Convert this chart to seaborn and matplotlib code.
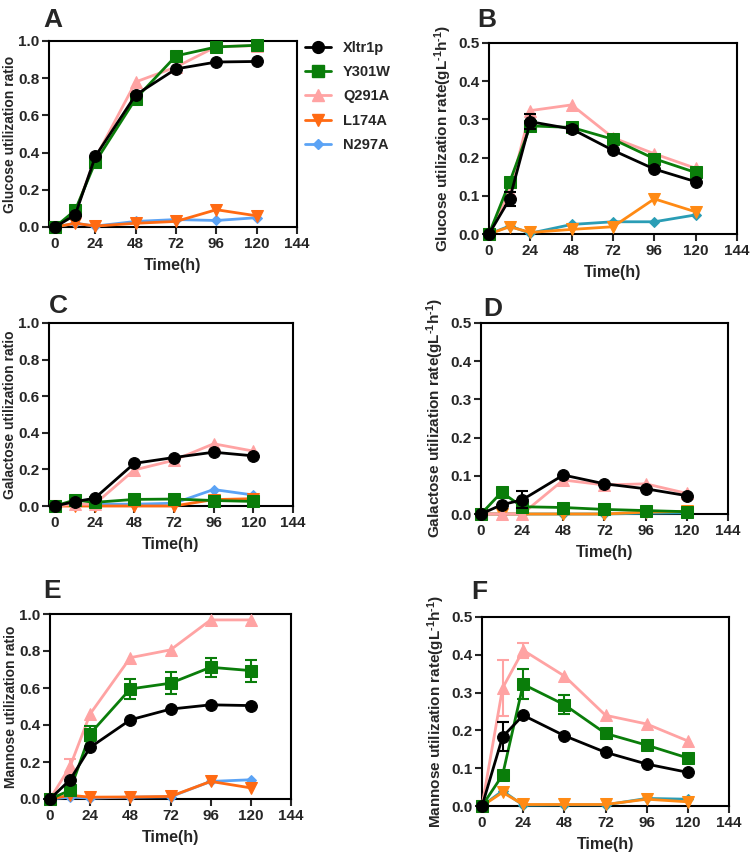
import numpy as np
import pandas as pd
import matplotlib
matplotlib.use("Agg")
import matplotlib.pyplot as plt
import seaborn as sns
from matplotlib.lines import Line2D

times = [0, 12, 24, 48, 72, 96, 120]
strains = ["Xltr1p", "Y301W", "Q291A", "L174A", "N297A"]

glucose_ratio = {
    "Xltr1p": [0, 0.065, 0.38, 0.71, 0.85, 0.887, 0.89],
    "Y301W": [0, 0.09, 0.35, 0.69, 0.92, 0.968, 0.977],
    "Q291A": [0, 0.08, 0.37, 0.78, 0.86, 0.97, 0.975],
    "L174A": [0, 0.02, 0.005, 0.02, 0.03, 0.093, 0.06],
    "N297A": [0, 0.02, 0.005, 0.03, 0.04, 0.035, 0.05],
}
glucose_rate = {
    "Xltr1p": [0, 0.092, 0.294, 0.275, 0.219, 0.17, 0.137],
    "Y301W": [0, 0.136, 0.283, 0.279, 0.248, 0.197, 0.161],
    "Q291A": [0, 0.11, 0.323, 0.338, 0.252, 0.21, 0.172],
    "L174A": [0, 0.019, 0.004, 0.012, 0.019, 0.092, 0.058],
    "N297A": [0, 0.021, 0.002, 0.025, 0.032, 0.032, 0.05],
}
galactose_ratio = {
    "Xltr1p": [0, 0.024, 0.042, 0.233, 0.265, 0.294, 0.274],
    "Y301W": [0, 0.033, 0.02, 0.036, 0.038, 0.03, 0.025],
    "Q291A": [0, 0.01, 0.01, 0.197, 0.25, 0.34, 0.30],
    "L174A": [0, 0, 0, 0, 0, 0.035, 0.04],
    "N297A": [0, 0.005, 0.01, 0.01, 0.015, 0.09, 0.06],
}
galactose_rate = {
    "Xltr1p": [0, 0.024, 0.037, 0.102, 0.079, 0.066, 0.048],
    "Y301W": [0, 0.057, 0.019, 0.017, 0.012, 0.009, 0.006],
    "Q291A": [0, 0, 0, 0.089, 0.076, 0.079, 0.054],
    "L174A": [0, 0, 0, 0, 0, 0.005, 0.007],
    "N297A": [0, 0, 0, 0, 0, 0.002, 0.003],
}
mannose_ratio = {
    "Xltr1p": [0, 0.104, 0.279, 0.428, 0.486, 0.509, 0.505],
    "Y301W": [0, 0.047, 0.353, 0.595, 0.626, 0.712, 0.694],
    "Q291A": [0, 0.176, 0.46, 0.764, 0.806, 0.968, 0.968],
    "L174A": [0, 0.02, 0.01, 0.011, 0.014, 0.095, 0.06],
    "N297A": [0, 0.01, 0.005, 0.01, 0.012, 0.095, 0.104],
}
mannose_rate = {
    "Xltr1p": [0, 0.183, 0.24, 0.186, 0.142, 0.111, 0.089],
    "Y301W": [0, 0.082, 0.322, 0.268, 0.192, 0.161, 0.127],
    "Q291A": [0, 0.312, 0.412, 0.344, 0.24, 0.217, 0.172],
    "L174A": [0, 0.036, 0.004, 0.004, 0.004, 0.018, 0.011],
    "N297A": [0, 0.04, 0.002, 0.003, 0.003, 0.02, 0.018],
}

# standard deviations (only where a bar is visible)
glucose_rate_sd = {"Xltr1p": [0, 0.018, 0.02, 0.008, 0, 0, 0]}
galactose_rate_sd = {"Xltr1p": [0, 0, 0.022, 0, 0, 0, 0]}
mannose_ratio_sd = {
    "Y301W": [0, 0.01, 0.04, 0.055, 0.06, 0.05, 0.06],
    "Q291A": [0, 0.04, 0, 0, 0, 0, 0],
}
mannose_rate_sd = {
    "Xltr1p": [0, 0.038, 0, 0, 0, 0, 0],
    "Y301W": [0, 0, 0.04, 0.025, 0.012, 0, 0],
    "Q291A": [0, 0.073, 0.02, 0, 0, 0, 0],
}

sns.set_style("ticks")
plt.rcParams["font.family"] = ["Liberation Sans", "DejaVu Sans"]
plt.rcParams["font.weight"] = "bold"
plt.rcParams["mathtext.fontset"] = "custom"
plt.rcParams["mathtext.rm"] = "Liberation Sans:bold"
plt.rcParams["mathtext.it"] = "Liberation Sans:bold"
plt.rcParams["mathtext.bf"] = "Liberation Sans:bold"

colors_left = {"Xltr1p": "#000000", "Y301W": "#0a7d0a", "Q291A": "#ffa3a3",
               "L174A": "#ff6a13", "N297A": "#5ba3f5"}
colors_right = {"Xltr1p": "#000000", "Y301W": "#0a7d0a", "Q291A": "#ffa3a3",
                "L174A": "#ff8a14", "N297A": "#2a9db5"}
markers = {"Xltr1p": "o", "Y301W": "s", "Q291A": "^", "L174A": "v", "N297A": "D"}
msizes = {"Xltr1p": 8.5, "Y301W": 8.5, "Q291A": 8.5, "L174A": 8.5, "N297A": 5.5}

fig = plt.figure(figsize=(7.5, 8.57), dpi=100)

W, H = 750, 857


def axes_px(left, top, right, bottom):
    return fig.add_axes([left / W, 1 - bottom / H, (right - left) / W, (bottom - top) / H])


rate_unit = "(gL$^{\\text{-1}}$h$^{\\text{-1}}$)"
panels = [
    ("A", glucose_ratio, {}, "Glucose utilization ratio", (49, 41, 297, 227), 1.0, -3.6, colors_left, (43, 27)),
    ("B", glucose_rate, glucose_rate_sd, "Glucose utilization rate" + rate_unit, (489, 43, 737, 234), 0.5, 0, colors_right, (477, 27)),
    ("C", galactose_ratio, {}, "Galactose utilization ratio", (49, 323, 293, 506), 1.0, -3.6, colors_left, (49, 313)),
    ("D", galactose_rate, galactose_rate_sd, "Galactose utilization rate" + rate_unit, (481, 323, 728, 514), 0.5, 0, colors_right, (483, 316)),
    ("E", mannose_ratio, mannose_ratio_sd, "Mannose utilization ratio", (50, 614, 291, 799), 1.0, 0, colors_left, (43, 598)),
    ("F", mannose_rate, mannose_rate_sd, "Mannose utilization rate" + rate_unit, (482, 617, 729, 806), 0.5, 0, colors_right, (471, 599)),
]

draw_order = ["N297A", "L174A", "Q291A", "Y301W", "Xltr1p"]

for letter, data, sd, ylabel, box, ymax, xmin, cols, lpos in panels:
    ax = axes_px(*box)
    for z, s in enumerate(draw_order):
        df = pd.DataFrame({"t": times, "v": data[s]})
        sns.lineplot(data=df, x="t", y="v", ax=ax, color=cols[s], marker=markers[s],
                     markersize=msizes[s], markeredgecolor=cols[s], linewidth=2,
                     errorbar=None, clip_on=False, zorder=3 + z, legend=False)
        if s in sd:
            e = np.array(sd[s])
            m = e > 0
            ax.errorbar(np.array(times)[m], np.array(data[s])[m], yerr=e[m], fmt="none",
                        ecolor=cols[s], elinewidth=1.5, capsize=4, capthick=1.5,
                        zorder=3 + z, clip_on=False)
    ax.set_xlim(xmin, 144)
    ax.set_ylim(0, ymax)
    ax.set_xticks([0, 24, 48, 72, 96, 120, 144])
    if ymax == 1.0:
        ax.set_yticks(np.arange(0, 1.01, 0.2))
        ylsize, ypad = 10, 1
    else:
        ax.set_yticks(np.arange(0, 0.51, 0.1))
        ylsize, ypad = 11, 3
    ax.yaxis.set_major_formatter(matplotlib.ticker.FormatStrFormatter("%.1f"))
    ax.set_xlabel("Time(h)", fontsize=11.5, fontweight="bold", labelpad=5)
    ax.set_ylabel(ylabel, fontsize=ylsize, fontweight="bold", labelpad=ypad)
    ax.tick_params(axis="both", labelsize=11, width=1.5, length=5, direction="out", pad=2)
    for sp in ax.spines.values():
        sp.set_linewidth(1.5)
        sp.set_color("black")
        sp.set_visible(True)
    fig.text(lpos[0] / W, 1 - lpos[1] / H, letter, fontsize=19, fontweight="bold",
             ha="left", va="baseline")

handles = [Line2D([0], [0], color=colors_left[s], marker=markers[s], markersize=msizes[s],
                  markeredgecolor=colors_left[s], linewidth=2) for s in strains]
fig.legend(handles, strains, loc="upper left", bbox_to_anchor=(305 / W, 1 - 41 / H),
           frameon=False, fontsize=10.5, handlelength=1.8, handletextpad=0.8,
           labelspacing=0.7, borderpad=0, borderaxespad=0)

fig.savefig("out.png", dpi=100)
